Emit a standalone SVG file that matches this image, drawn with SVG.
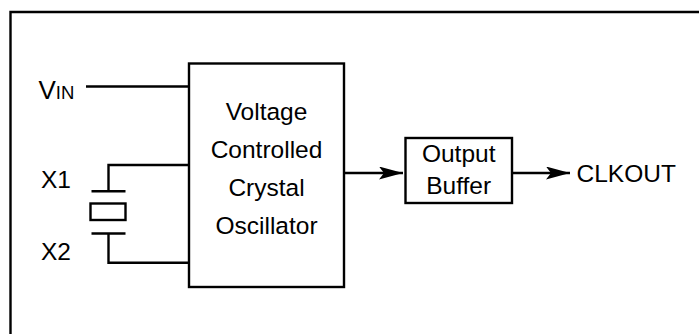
<svg xmlns="http://www.w3.org/2000/svg" width="699" height="334" viewBox="0 0 699 334">
<style>
  .ln{stroke:#000;stroke-width:2.4;fill:none}
  .box{stroke:#000;stroke-width:2.4;fill:#fff}
  .t{font-family:"Liberation Sans",Arial,sans-serif;font-size:24.5px;fill:#000}
  .c{text-anchor:middle}
</style>
<defs>
  <marker id="arr" markerUnits="userSpaceOnUse" markerWidth="28" markerHeight="16" refX="24" refY="6.5" orient="auto">
    <path d="M0,0 L24,6.5 L0,13 L5,6.5 Z" fill="#000"/>
  </marker>
</defs>
<rect width="699" height="334" fill="#fff"/>
<g id="frame">
  <path class="ln" d="M10.5,334 V12 H699" stroke-width="2.6"/>
</g>
<g id="connectors">
  <line class="ln" x1="86" y1="86.5" x2="189" y2="86.5"/>
  <path class="ln" d="M189,165 H108.5 V191.3"/>
  <path class="ln" d="M189,262.8 H108.5 V233.5"/>
  <line class="ln" x1="91.5" y1="191.3" x2="125.5" y2="191.3"/>
  <line class="ln" x1="91.5" y1="233.5" x2="125.5" y2="233.5"/>
  <rect class="ln" x="90.5" y="203.5" width="35" height="16.5"/>
  <line class="ln" x1="344" y1="173" x2="403" y2="173" marker-end="url(#arr)"/>
  <line class="ln" x1="512" y1="173" x2="570" y2="173" marker-end="url(#arr)"/>
</g>
<g id="vin">
  <text class="t" x="38.5" y="98.5"><tspan font-size="26px">V</tspan><tspan font-size="18.5px">IN</tspan></text>
</g>
<g id="x1"><text class="t" x="41" y="188">X1</text></g>
<g id="x2"><text class="t" x="41" y="259.5">X2</text></g>
<g id="vcxo">
  <rect class="box" x="189" y="63.5" width="155" height="223.5"/>
  <text class="t c" x="266.5" y="120">Voltage</text>
  <text class="t c" x="266.5" y="158.3">Controlled</text>
  <text class="t c" x="266.5" y="196">Crystal</text>
  <text class="t c" x="266.5" y="234.3">Oscillator</text>
</g>
<g id="buffer">
  <rect class="box" x="405.5" y="138" width="106.5" height="65"/>
  <text class="t c" x="458.7" y="161.5">Output</text>
  <text class="t c" x="458.7" y="194">Buffer</text>
</g>
<g id="clkout">
  <text class="t" x="576.5" y="181.5">CLKOUT</text>
</g>
</svg>
